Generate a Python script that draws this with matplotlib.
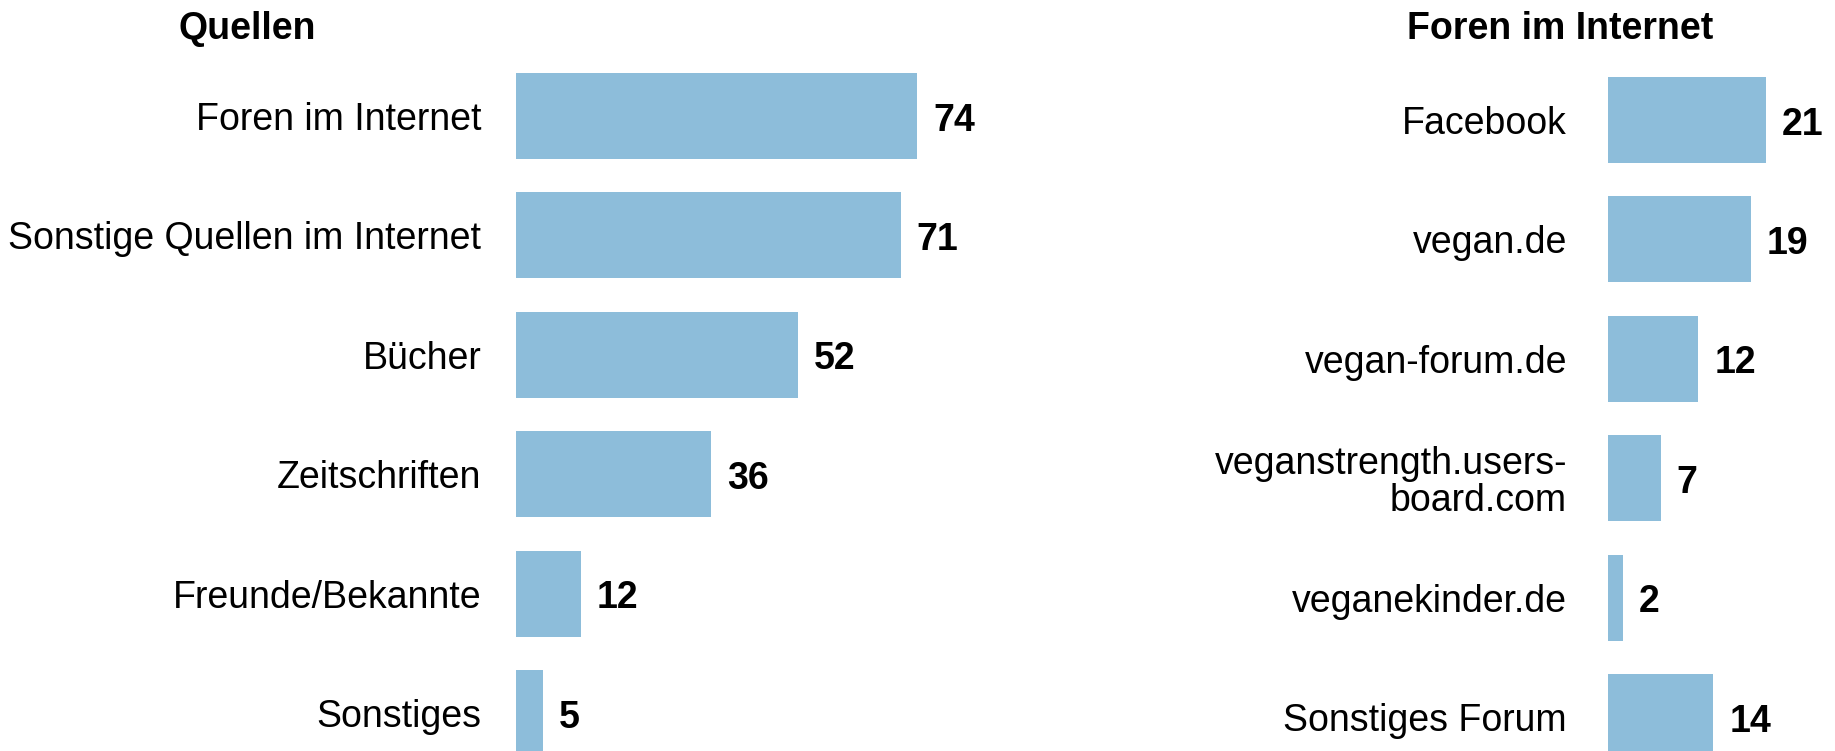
import matplotlib.pyplot as plt

plt.rcParams['font.family'] = ['Liberation Sans', 'DejaVu Sans']

# data
quellen = ['Foren im Internet', 'Sonstige Quellen im Internet', 'Bücher',
           'Zeitschriften', 'Freunde/Bekannte', 'Sonstiges']
quellen_n = [74, 71, 52, 36, 12, 5]

foren = ['Facebook', 'vegan.de', 'vegan-forum.de',
         'veganstrength.users-\nboard.com', 'veganekinder.de', 'Sonstiges Forum']
foren_n = [21, 19, 12, 7, 2, 14]

bar_color = '#8dbdda'
W, H = 1835, 751
pitch = 119.4  # px per row
fs = 27


def panel(left_px, px_per_unit, first_center_px, labels, values, pad):
    width_px = W - left_px if left_px > 1000 else 440
    ax = fig.add_axes([left_px / W, 0, width_px / W, 1])
    ypos = list(range(len(values)))
    ax.barh(ypos, values, height=86 / pitch, color=bar_color)
    off = first_center_px / pitch
    ax.set_ylim(H / pitch - off, -off)
    ax.set_xlim(0, width_px / px_per_unit)
    ax.set_yticks(ypos)
    ax.set_yticklabels(labels, fontsize=fs, ha='right', linespacing=1.03)
    ax.tick_params(axis='y', length=0, pad=pad)
    ax.set_xticks([])
    for s in ax.spines.values():
        s.set_visible(False)
    for y, v in zip(ypos, values):
        ax.annotate(str(v), (v, y), xytext=(11.5, -10.5), textcoords='offset points',
                    ha='left', va='baseline', fontsize=fs, fontweight='bold')
    return ax


fig = plt.figure(figsize=(W / 100, H / 100), dpi=100)

panel(516, 5.42, 116, quellen, quellen_n, 25)
panel(1608, 7.52, 120, foren, foren_n, 29.5)

fig.text(178 / W, 1 - 39 / H, 'Quellen', fontsize=fs, fontweight='bold',
         ha='left', va='baseline')
fig.text(1407 / W, 1 - 39 / H, 'Foren im Internet', fontsize=fs, fontweight='bold',
         ha='left', va='baseline')

fig.savefig('out.png', dpi=100)
